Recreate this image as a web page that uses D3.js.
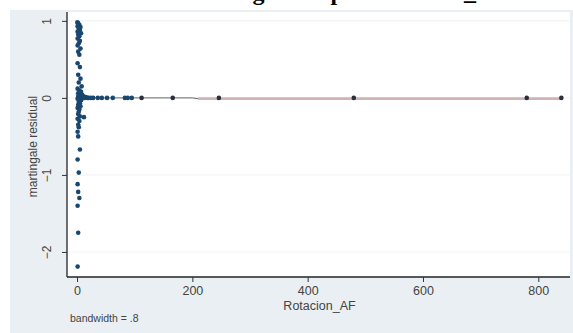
<!DOCTYPE html>
<html><head><meta charset="utf-8">
<script src="https://cdn.jsdelivr.net/npm/d3@7"></script>
<style>body{margin:0;background:#fff}svg{display:block}</style>
</head><body>
<svg id="c" width="573" height="333"></svg>
<script>
// ---- data ----
const titleText = "Linealidad gráfica por Rotacion_AF";
const xTicks = [0, 200, 400, 600, 800];
const yTicks = [1, 0, -1, -2];
const xLabel = "Rotacion_AF";
const yLabel = "martingale residual";
const note = "bandwidth = .8";
// scatter: Rotacion_AF values and martingale residuals
const ptX = [0.5,2,4,1,6,3,5,1,7,2,4,1,5,3,1,6,2,4,
             1,5,2,6,3,8,1,4,7,2,5,9,3,6,2,8,1,4,7,3,5,2,6,1,4,3,2,5,1,4,2,3,1,2,5,1,3,1,2,4,1,2,1,12,
             3,5,7,9,11,13,15,18,20,24,28,36,43,52,62,83,88,95,112,166,246,480,780,840];
const ptY = [0.98,0.97,0.95,0.93,0.92,0.90,0.88,0.86,0.84,0.82,0.80,0.77,0.74,0.71,0.68,0.64,0.60,0.56,
             0.45,0.40,0.30,0.25,0.20,0.15,0.12,0.10,0.08,0.06,0.05,0.04,0.03,0.02,0.01,0.0,-0.01,-0.02,-0.03,-0.05,-0.07,-0.09,-0.11,-0.13,-0.15,-0.18,-0.21,-0.24,-0.27,-0.30,-0.35,-0.38,-0.44,-0.50,-0.67,-0.80,-0.97,-1.12,-1.22,-1.30,-1.40,-1.75,-2.19,-0.25,
             0.01,0.02,0.0,0.01,0.02,0.0,0.01,0.0,0.0,0.0,0.0,0.0,0.0,0.0,0.0,0.0,0.0,0.0,0.0,0.0,0.0,0.0,0.0,0.0];
// lowess smooth
const lowX = [0, 50, 100, 150, 200, 210, 300, 400, 500, 600, 700, 800, 840];
const lowY = [0.0, 0.0, 0.0, 0.0, 0.0, -0.01, -0.01, -0.01, -0.01, -0.01, -0.01, -0.01, -0.01];

// ---- layout ----
const svg = d3.select("#c");
const L = 67, R = 570, T = 12, B = 277;
const x = d3.scaleLinear().domain([-17.4, 855]).range([L, R]);
const y = d3.scaleLinear().domain([-2.325, 1.115]).range([B, T]);
const sans = "Liberation Sans, Arial, sans-serif";

// title (cut off at the top edge, as in the reference)
svg.append("text").attr("x", 322).attr("y", 0).attr("text-anchor", "middle")
  .attr("font-family", "Liberation Serif, serif").attr("font-weight", "bold")
  .attr("font-size", 24).attr("fill", "#000").text(titleText);

// graph region
svg.append("rect").attr("x", 10).attr("y", 10).attr("width", 563).attr("height", 323).attr("fill", "#e9eff2");
// plot region
svg.append("rect").attr("x", L).attr("y", T).attr("width", R - L).attr("height", B - T).attr("fill", "#fff");

// gridlines
svg.append("g").selectAll("line").data(yTicks).join("line")
  .attr("x1", L).attr("x2", R).attr("y1", d => y(d)).attr("y2", d => y(d))
  .attr("stroke", "#eef2f4").attr("stroke-width", 1);

// y axis
const yAxis = svg.append("g").attr("transform", `translate(${L},0)`)
  .call(d3.axisLeft(y).tickValues(yTicks).tickSize(5).tickFormat(d3.format("d")));
yAxis.select(".domain").attr("d", `M0,${T}V${B}`).attr("stroke", "#222").attr("stroke-width", 1.3);
yAxis.selectAll(".tick line").attr("stroke", "#333");
yAxis.selectAll(".tick text").attr("font-family", sans)
  .attr("font-size", 12).attr("fill", "#444")
  .attr("x", null).attr("dy", null).attr("text-anchor", "middle")
  .attr("transform", "translate(-16,0) rotate(-90)");

// x axis
const xAxis = svg.append("g").attr("transform", `translate(0,${B})`)
  .call(d3.axisBottom(x).tickValues(xTicks).tickSize(5).tickFormat(d3.format("d")));
xAxis.select(".domain").attr("d", `M${L},0H${R}`).attr("stroke", "#222").attr("stroke-width", 1.3);
xAxis.selectAll(".tick line").attr("stroke", "#333");
xAxis.selectAll(".tick text").attr("font-family", sans)
  .attr("font-size", 12.5).attr("fill", "#444").attr("y", 9).attr("dy", "0.71em");

// axis titles
svg.append("text").attr("transform", `translate(37,${(T + B) / 2 + 2}) rotate(-90)`)
  .attr("text-anchor", "middle").attr("font-family", sans)
  .attr("font-size", 12).attr("fill", "#444").text(yLabel);
svg.append("text").attr("x", (L + R) / 2 + 1).attr("y", 310)
  .attr("text-anchor", "middle").attr("font-family", sans)
  .attr("font-size", 12.5).attr("fill", "#444").text(xLabel);
svg.append("text").attr("x", 70).attr("y", 322)
  .attr("font-family", sans)
  .attr("font-size", 10.5).attr("fill", "#444").text(note);

// lowess line
const pts = lowX.map((d, i) => [d, lowY[i]]);
const line = d3.line().x(d => x(d[0])).y(d => y(d[1]));
svg.append("path").attr("d", line(pts.filter(d => d[0] >= 210)))
  .attr("fill", "none").attr("stroke", "#cfb3b6").attr("stroke-width", 2.6);
svg.append("path").attr("d", line(pts.filter(d => d[0] <= 210)))
  .attr("fill", "none").attr("stroke", "#666").attr("stroke-width", 1);

// scatter
svg.append("g").selectAll("circle").data(ptX.map((d, i) => [d, ptY[i]])).join("circle")
  .attr("cx", d => x(d[0])).attr("cy", d => y(d[1])).attr("r", 2.3)
  .attr("fill", d => d[0] > 100 ? "#2a2f3a" : "#1a476f");
</script>
</body></html>
